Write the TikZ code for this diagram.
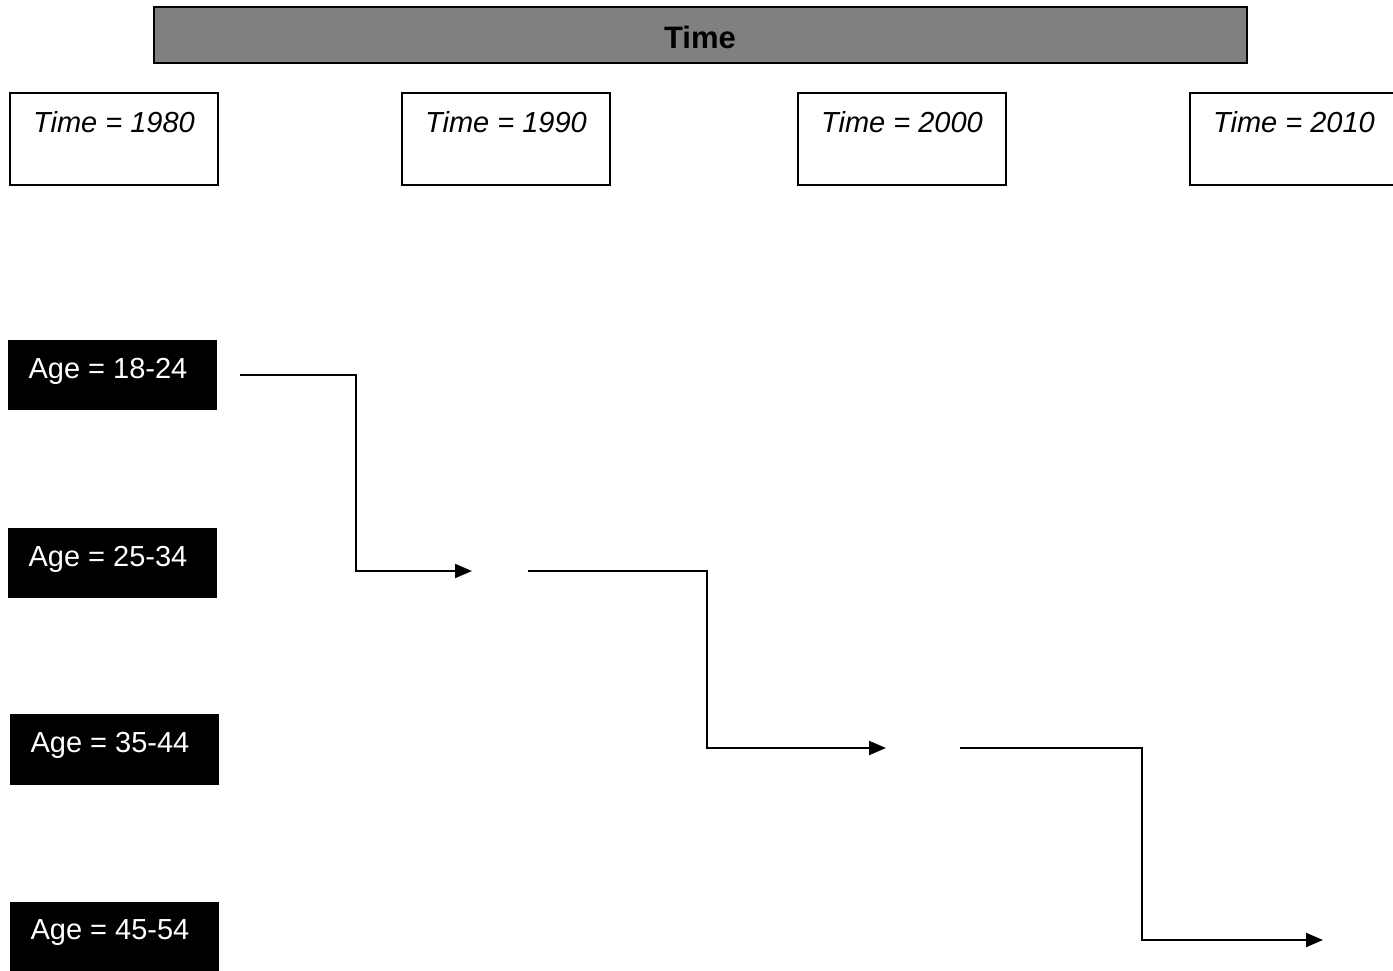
\documentclass[tikz,border=0pt]{standalone}
\usepackage{fontspec}
\setmainfont{Liberation Sans}
\usetikzlibrary{arrows.meta}
\begin{document}
\begin{tikzpicture}[x=1pt,y=-1pt,
  timebox/.style={draw=black,line width=1.5pt,fill=white},
  agebox/.style={fill=black,draw=none},
  timelabel/.style={font=\fontsize{29}{34}\selectfont\itshape,inner sep=0pt,anchor=center},
  agelabel/.style={font=\fontsize{29}{34}\selectfont,text=white,inner sep=0pt,anchor=center},
  conn/.style={line width=2pt,-{Triangle[length=17pt,width=14pt]}},
]
\useasboundingbox (0,0) rectangle (1393,970);
\clip (0,0) rectangle (1393,970);
% title bar
\draw[fill=black!50,line width=2pt] (154,7) rectangle (1247,63);
\node[font=\fontsize{31}{36}\selectfont\bfseries,inner sep=0pt] (title) at (700,37) {Time};
% time boxes
\draw[timebox] (10,93) rectangle (218,185);
\node[timelabel] (t1980) at (114,122) {Time = 1980};
\draw[timebox] (402,93) rectangle (610,185);
\node[timelabel] (t1990) at (506,122) {Time = 1990};
\draw[timebox] (798,93) rectangle (1006,185);
\node[timelabel] (t2000) at (902,122) {Time = 2000};
\draw[timebox] (1190,93) rectangle (1400,185);
\node[timelabel] (t2010) at (1294,122) {Time = 2010};
% age boxes
\fill[agebox] (8,340) rectangle (217,410);
\node[agelabel] (a1) at (108,371) {Age = 18-24};
\fill[agebox] (8,528) rectangle (217,598);
\node[agelabel] (a2) at (108,559) {Age = 25-34};
\fill[agebox] (10,714) rectangle (219,785);
\node[agelabel] (a3) at (110,745) {Age = 35-44};
\fill[agebox] (10,902) rectangle (219,972);
\node[agelabel] (a4) at (110,933) {Age = 45-54};
% connector endpoints
\coordinate (s1) at (240,375);
\coordinate (e1) at (472,571);
\coordinate (s2) at (528,571);
\coordinate (e2) at (886,748);
\coordinate (s3) at (960,748);
\coordinate (e3) at (1323,940);
\draw[conn] (s1) -- (356,375) -- (356,571) -- (e1);
\draw[conn] (s2) -- (707,571) -- (707,748) -- (e2);
\draw[conn] (s3) -- (1142,748) -- (1142,940) -- (e3);
\end{tikzpicture}
\end{document}
